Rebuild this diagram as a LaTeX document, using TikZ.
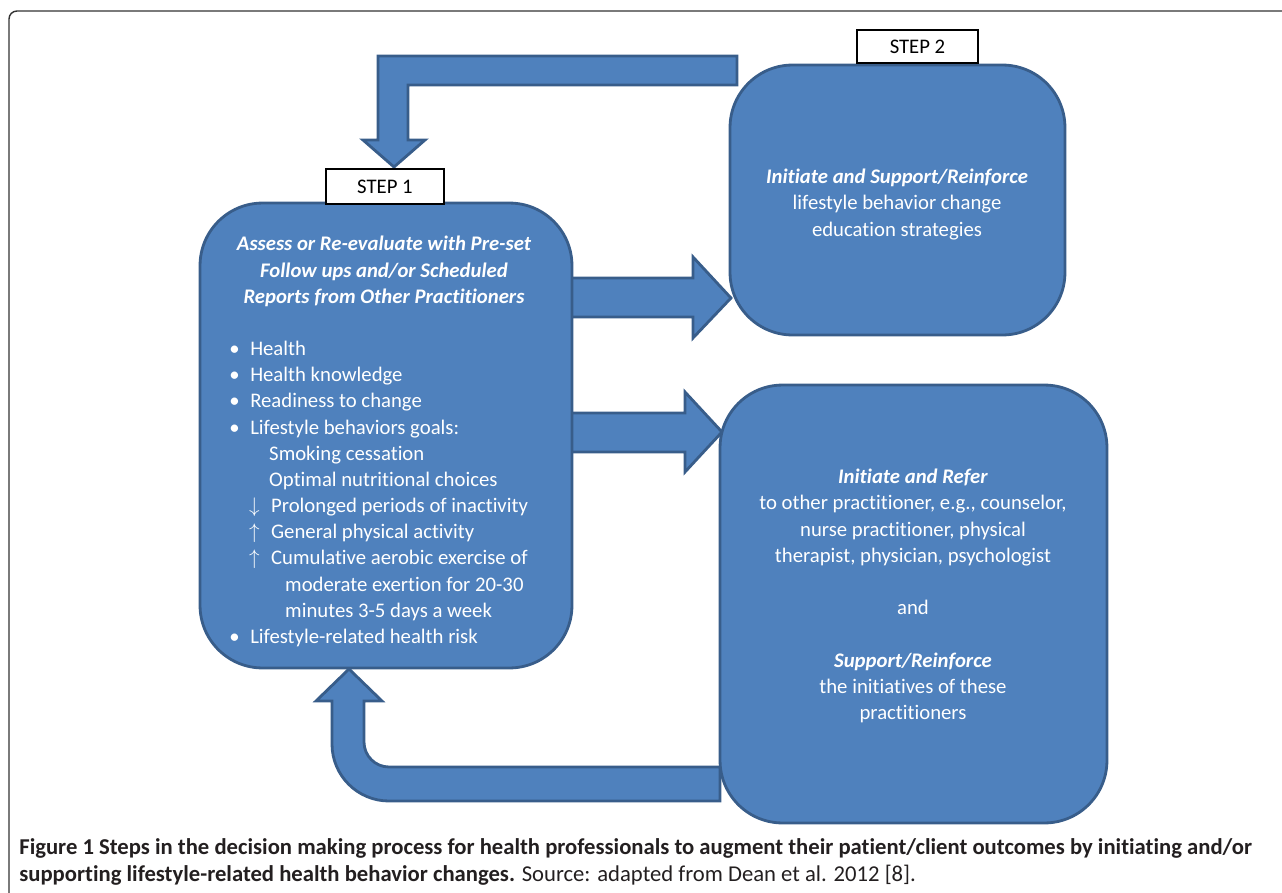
\documentclass[tikz,border=0pt]{standalone}
\usepackage{fontspec}
\setmainfont[Ligatures=NoCommon]{Carlito}
\usepackage{tikz}
\definecolor{boxblue}{HTML}{4F81BD}
\definecolor{boxline}{HTML}{385D8A}
\definecolor{captext}{HTML}{231F20}
\newcommand\bul{\makebox[11.9pt][l]{\textbullet}}
\newcommand\arr[1]{\makebox[12.5pt][l]{$#1$}}

\begin{document}
\begin{tikzpicture}[x=0.02cm,y=-0.02cm,
    stepbox/.style={draw=boxline,fill=boxblue,line width=1.6pt,rounded corners=1.25cm,inner sep=0pt},
    blockarrow/.style={draw=boxline,fill=boxblue,line width=1.6pt,line join=miter},
    steplabel/.style={draw=black,fill=white,line width=0.6pt,inner sep=0pt,font=\fontsize{11.8}{14.9}\selectfont},
    boxtext/.style={text=white,inner sep=0pt,font=\fontsize{11.8}{14.9}\selectfont}]
    \useasboundingbox (0,0) rectangle (1282,893);
    \clip (0,0) rectangle (1282,893);
    % frame
    \draw[line width=0.8pt,color=black!80,rounded corners=0.16cm] (9,900) -- (9,11) -- (1290,11);
    % block arrows
    \filldraw[blockarrow] (737,56) -- (378,56) -- (378,140) -- (363,140) -- (394,167)
      -- (425,140) -- (408,140) -- (408,85) -- (737,85) -- cycle;
    \filldraw[blockarrow] (560,278) -- (693,278) -- (693,257) -- (731,298)
      -- (693,338) -- (693,317) -- (560,317) -- cycle;
    \filldraw[blockarrow] (560,413) -- (685,413) -- (685,392) -- (722,432)
      -- (685,472) -- (685,452) -- (560,452) -- cycle;
    \filldraw[blockarrow] (720,801) -- (720,767) [rounded corners=0.5cm] -- (364,767)
      [sharp corners] -- (364,701) -- (382,701) -- (349,669) -- (316,701) -- (332,701)
      [rounded corners=1.14cm] -- (332,801) [sharp corners] -- cycle;
    % boxes
    \node[stepbox,minimum width=7.44cm,minimum height=9.3cm] (assess) at (386,435.5) {};
    \node[stepbox,minimum width=6.7cm,minimum height=5.4cm] (support) at (897.5,200) {};
    \node[stepbox,minimum width=7.74cm,minimum height=8.76cm] (refer) at (913.5,604) {};
    \node[steplabel,minimum width=2.36cm,minimum height=0.7cm] (label1) at (385,186.5) {STEP 1};
    \node[steplabel,minimum width=2.42cm,minimum height=0.66cm] (label2) at (917.5,46.5) {STEP 2};
    % texts
    \node[boxtext,align=center,font=\fontsize{11.8}{14.9}\selectfont\bfseries\itshape] (assesstitle) at (384,271.5)
      {Assess or Re-evaluate with Pre-set\\Follow ups and/or Scheduled\\Reports from Other Practitioners};
    \node[boxtext,align=left,anchor=west] (goals) at (229,494) {%
      \bul Health\\
      \bul Health knowledge\\
      \bul Readiness to change\\
      \bul Lifestyle behaviors goals:\\
      \hspace*{22.7pt}Smoking cessation\\
      \hspace*{22.7pt}Optimal nutritional choices\\
      \hspace*{11.3pt}\arr{\downarrow}Prolonged periods of inactivity\\
      \hspace*{11.3pt}\arr{\uparrow}General physical activity\\
      \hspace*{11.3pt}\arr{\uparrow}Cumulative aerobic exercise of\\
      \hspace*{31.8pt}moderate exertion for 20-30\\
      \hspace*{31.8pt}minutes 3-5 days a week\\
      \bul Lifestyle-related health risk};
    \node[boxtext,align=center] (supporttext) at (897,204.5)
      {\textbf{\textit{Initiate and Support/Reinforce}}\\lifestyle behavior change\\education strategies};
    \node[boxtext,align=center] (refertext) at (913,596)
      {\textbf{\textit{Initiate and Refer}}\\to other practitioner, e.g., counselor,\\nurse practitioner, physical\\
       therapist, physician, psychologist\\[14.9pt]and\\[14.9pt]\textbf{\textit{Support/Reinforce}}\\
       the initiatives of these\\practitioners};
    % caption
    \node[anchor=west,inner sep=0pt,align=left,text=captext,font=\fontsize{12.9}{14.9}\selectfont] (caption) at (19,862)
      {\textbf{Figure 1 Steps in the decision making process for health professionals to augment their patient/client outcomes by initiating and/or}\\
       \textbf{supporting lifestyle-related health behavior changes.} Source: adapted from Dean et al. 2012 [8].};
\end{tikzpicture}
\end{document}
